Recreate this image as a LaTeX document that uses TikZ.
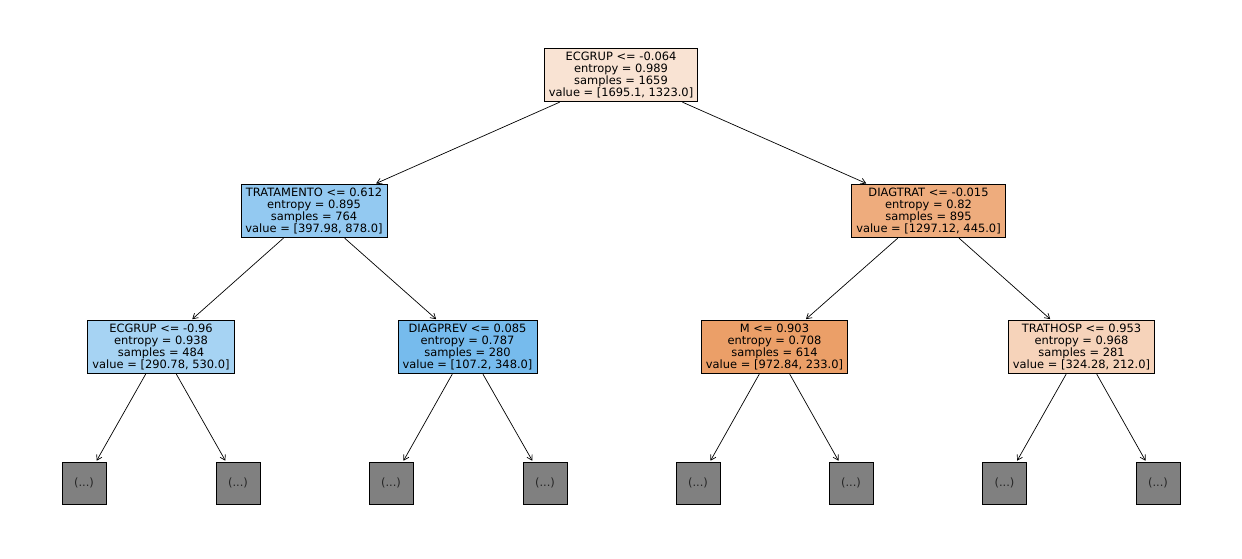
\documentclass[tikz,border=0pt]{standalone}
\usepackage{fontspec}
\setmainfont{DejaVu Sans}
\usetikzlibrary{arrows.meta}
\definecolor{cRoot}{RGB}{249,227,211}
\definecolor{cL}{RGB}{147,201,241}
\definecolor{cR}{RGB}{238,172,125}
\definecolor{cLL}{RGB}{166,211,243}
\definecolor{cLR}{RGB}{118,187,237}
\definecolor{cRL}{RGB}{235,159,104}
\definecolor{cRR}{RGB}{246,211,186}
\definecolor{cLeaf}{RGB}{128,128,128}
\newcommand\treenodefont{\fontsize{11.45}{11.7}\selectfont\lineskiplimit=-100pt\relax}
\begin{document}
\begin{tikzpicture}[x=1pt,y=-1pt,
  split/.style={draw=black, line width=0.8pt, align=center, inner xsep=4.5pt, inner ysep=4.2pt,
    font=\treenodefont},
  leaf/.style={draw=black, line width=0.8pt, fill=cLeaf, minimum width=44pt, minimum height=42pt, inner sep=0pt,
    font=\fontsize{11.45}{12}\selectfont, text=black!85},
  edge/.style={draw=black, line width=0.7pt, -{Straight Barb[length=5pt,width=6pt,line width=0.7pt]}, shorten >=1pt}]
\useasboundingbox (0,0) rectangle (1242,558);
\node[split, fill=cRoot] (root) at (621,75) {ECGRUP <= -0.064\\entropy = 0.989\\samples = 1659\\value = [1695.1, 1323.0]};
\node[split, fill=cL] (l) at (314,211) {TRATAMENTO <= 0.612\\entropy = 0.895\\samples = 764\\value = [397.98, 878.0]};
\node[split, fill=cR] (r) at (928.5,211) {DIAGTRAT <= -0.015\\entropy = 0.82\\samples = 895\\value = [1297.12, 445.0]};
\node[split, fill=cLL] (ll) at (161,347) {ECGRUP <= -0.96\\entropy = 0.938\\samples = 484\\value = [290.78, 530.0]};
\node[split, fill=cLR] (lr) at (467.5,347) {DIAGPREV <= 0.085\\entropy = 0.787\\samples = 280\\value = [107.2, 348.0]};
\node[split, fill=cRL] (rl) at (774.5,347) {M <= 0.903\\entropy = 0.708\\samples = 614\\value = [972.84, 233.0]};
\node[split, fill=cRR] (rr) at (1081.5,347) {TRATHOSP <= 0.953\\entropy = 0.968\\samples = 281\\value = [324.28, 212.0]};
\node[leaf] (a1) at (84,483) {(...)};
\node[leaf] (a2) at (238,483) {(...)};
\node[leaf] (a3) at (391,483) {(...)};
\node[leaf] (a4) at (545,483) {(...)};
\node[leaf] (a5) at (698,483) {(...)};
\node[leaf] (a6) at (851,483) {(...)};
\node[leaf] (a7) at (1004.5,483) {(...)};
\node[leaf] (a8) at (1158,483) {(...)};
\draw[edge] (root) -- (l);
\draw[edge] (root) -- (r);
\draw[edge] (l) -- (ll);
\draw[edge] (l) -- (lr);
\draw[edge] (r) -- (rl);
\draw[edge] (r) -- (rr);
\draw[edge] (ll) -- (a1);
\draw[edge] (ll) -- (a2);
\draw[edge] (lr) -- (a3);
\draw[edge] (lr) -- (a4);
\draw[edge] (rl) -- (a5);
\draw[edge] (rl) -- (a6);
\draw[edge] (rr) -- (a7);
\draw[edge] (rr) -- (a8);
\end{tikzpicture}
\end{document}
